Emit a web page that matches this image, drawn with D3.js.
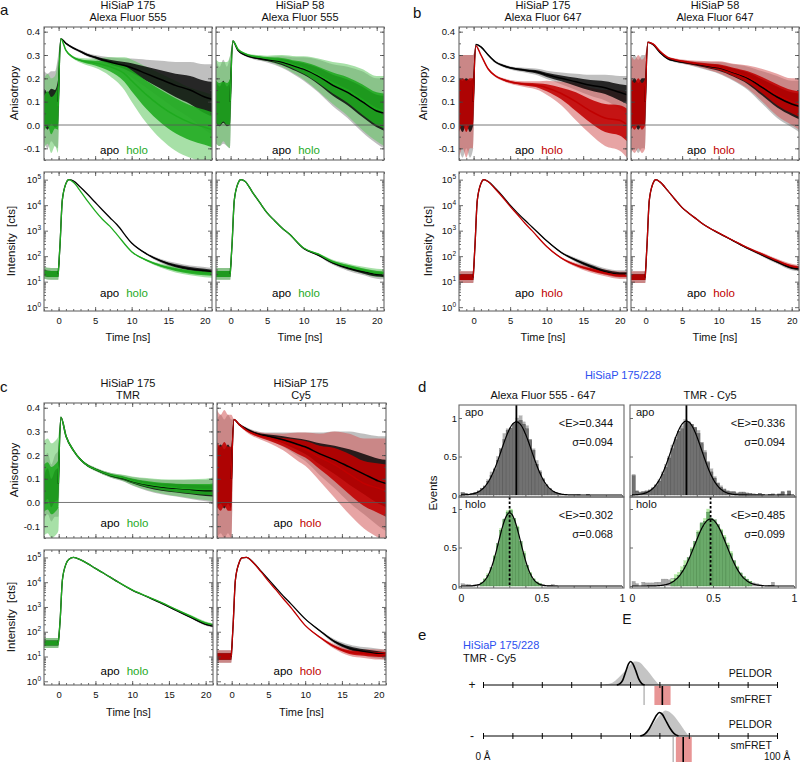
<!DOCTYPE html>
<html><head><meta charset="utf-8">
<script src="https://cdn.jsdelivr.net/npm/d3@7"></script>
<style>body{margin:0;background:#fff} text{font-family:"Liberation Sans",Arial,sans-serif;fill:#111}</style>
</head><body><svg id="c" width="800" height="762"></svg>
<script>
// ---------------- DATA ----------------
const timeTicks = [0, 5, 10, 15, 20];
const anisoTicks = [-0.1, 0.0, 0.1, 0.2, 0.3, 0.4];
const logTicks = [1, 10, 100, 1000, 10000, 100000];
const tA = [-2,-1.5,-1,-0.5,-0.05,0.3,1,2,3,4,5,7,9,10,12,14,16,18,20,21];
// panel a – HiSiaP 175 Alexa Fluor 555
const aL_apo  = [0.08,0.06,0.08,0.07,0.10,0.37,0.35,0.33,0.315,0.30,0.29,0.27,0.255,0.245,0.22,0.195,0.17,0.15,0.12,0.11];
const aL_apoN = [0.15,0.16,0.15,0.16,0.2,0,0.004,0.005,0.006,0.008,0.01,0.02,0.03,0.04,0.06,0.08,0.1,0.12,0.14,0.15];
const aL_hol  = [0.05,0.07,0.04,0.06,0.08,0.37,0.32,0.29,0.277,0.27,0.265,0.25,0.22,0.19,0.13,0.08,0.04,0.01,-0.01,-0.02];
const aL_holN = [0.15,0.15,0.16,0.15,0.2,0,0.004,0.006,0.01,0.015,0.02,0.04,0.07,0.09,0.12,0.14,0.15,0.15,0.15,0.15];
// panel a – HiSiaP 58 Alexa Fluor 555
const aR_apo  = [0.1,0.08,0.1,0.08,0.1,0.36,0.32,0.30,0.29,0.285,0.28,0.27,0.25,0.24,0.21,0.17,0.14,0.1,0.06,0.05];
const aR_apoN = [0.18,0.17,0.18,0.17,0.2,0,0.004,0.005,0.007,0.01,0.012,0.025,0.04,0.05,0.07,0.09,0.11,0.13,0.14,0.15];
const aR_hol  = [0.1,0.09,0.1,0.09,0.1,0.36,0.325,0.305,0.295,0.29,0.285,0.275,0.255,0.245,0.215,0.18,0.15,0.11,0.07,0.06];
const aR_holN = [0.18,0.18,0.17,0.18,0.2,0,0.004,0.005,0.007,0.01,0.012,0.025,0.04,0.05,0.07,0.09,0.11,0.13,0.14,0.15];
// panel b – HiSiaP 175 Alexa Fluor 647
const bL_apo  = [0.1,0.08,0.1,0.08,0.1,0.345,0.335,0.3,0.27,0.255,0.245,0.235,0.225,0.215,0.2,0.185,0.17,0.16,0.14,0.13];
const bL_apoN = [0.2,0.22,0.2,0.22,0.2,0,0.003,0.004,0.005,0.006,0.007,0.01,0.015,0.018,0.025,0.035,0.045,0.055,0.07,0.08];
const bL_hol  = [0.08,0.1,0.08,0.1,0.1,0.34,0.30,0.24,0.21,0.195,0.185,0.175,0.168,0.16,0.135,0.1,0.06,0.03,0.02,0.0];
const bL_holN = [0.22,0.2,0.22,0.2,0.2,0,0.003,0.004,0.005,0.006,0.008,0.012,0.02,0.03,0.05,0.08,0.1,0.12,0.13,0.14];
// panel b – HiSiaP 58 Alexa Fluor 647
const bR_apo  = [0.08,0.1,0.08,0.1,0.1,0.355,0.345,0.31,0.285,0.275,0.27,0.26,0.25,0.245,0.225,0.2,0.16,0.12,0.09,0.08];
const bR_apoN = [0.2,0.2,0.2,0.2,0.2,0,0.003,0.004,0.005,0.006,0.008,0.012,0.02,0.025,0.035,0.05,0.07,0.09,0.1,0.11];
const bR_hol  = [0.1,0.08,0.1,0.08,0.1,0.355,0.348,0.315,0.29,0.28,0.273,0.263,0.253,0.248,0.228,0.205,0.17,0.13,0.1,0.09];
const bR_holN = [0.2,0.2,0.2,0.2,0.2,0,0.003,0.004,0.005,0.006,0.008,0.012,0.02,0.025,0.035,0.05,0.07,0.09,0.1,0.11];
// panel c – HiSiaP 175 TMR
const cL_apo  = [0.05,0.08,0.04,0.07,0.08,0.36,0.28,0.22,0.18,0.155,0.14,0.115,0.1,0.09,0.075,0.065,0.06,0.055,0.05,0.05];
const cL_apoN = [0.12,0.13,0.12,0.13,0.14,0,0.003,0.004,0.005,0.006,0.007,0.01,0.014,0.018,0.025,0.03,0.035,0.04,0.045,0.05];
const cL_hol  = [0.06,0.07,0.05,0.06,0.08,0.36,0.28,0.22,0.18,0.155,0.14,0.116,0.102,0.092,0.078,0.068,0.062,0.058,0.055,0.055];
const cL_holN = [0.2,0.2,0.2,0.2,0.2,0,0.003,0.004,0.005,0.006,0.007,0.01,0.014,0.018,0.025,0.03,0.035,0.04,0.045,0.05];
// panel c – HiSiaP 175 Cy5
const cR_apo  = [0.1,0.12,0.1,0.12,0.1,0.35,0.33,0.31,0.295,0.285,0.28,0.265,0.245,0.235,0.205,0.18,0.15,0.12,0.09,0.08];
const cR_apoN = [0.25,0.25,0.25,0.25,0.25,0,0.005,0.008,0.01,0.012,0.015,0.03,0.05,0.06,0.09,0.12,0.15,0.17,0.19,0.2];
const cR_hol  = [0.12,0.1,0.12,0.1,0.1,0.35,0.33,0.305,0.29,0.28,0.272,0.255,0.235,0.225,0.19,0.16,0.12,0.08,0.06,0.05];
const cR_holN = [0.27,0.27,0.27,0.27,0.27,0,0.005,0.008,0.012,0.015,0.02,0.035,0.06,0.07,0.1,0.14,0.17,0.19,0.21,0.22];

// intensity decays [cts]
const tI = [-2,-1,-0.05,0.2,0.5,1,1.4,2,3,4,5,6,7,8,10,12,14,16,18,20,21];
const iaL_apo = [22,20,20,300,1.5e4,7e4,1e5,9e4,5e4,2.6e4,1.3e4,6.5e3,3.3e3,1.7e3,330,125,65,42,32,27,25];
const iaL_hol = [22,20,20,300,1.5e4,7e4,1e5,8e4,3.5e4,1.4e4,6e3,2.8e3,1.5e3,700,150,70,42,30,24,21,20];
const iaL_noise = [1.7,1.7,1.7,1,1,1,1,1,1,1,1,1,1,1,1.05,1.1,1.2,1.3,1.35,1.4,1.4];
const iaR_apo = [20,20,20,300,1.5e4,7e4,1e5,8.5e4,3.2e4,1.25e4,5e3,2.5e3,1.3e3,750,200,110,55,35,25,19,18];
const iaR_hol = [20,20,20,300,1.5e4,7e4,1e5,8.5e4,3.2e4,1.25e4,5e3,2.5e3,1.3e3,760,210,120,60,40,29,22,21];
const iaR_noise = [1.7,1.7,1.7,1,1,1,1,1,1,1,1,1,1,1,1.05,1.1,1.2,1.3,1.35,1.45,1.45];
const ibL_apo = [15,15,15,300,1.5e4,7e4,1e5,8.5e4,4.5e4,2.2e4,1e4,5e3,2.6e3,1.4e3,400,140,70,40,25,20,20];
const ibL_hol = [15,15,15,300,1.5e4,7e4,1e5,8.3e4,4.2e4,2e4,9e3,4.3e3,2e3,1e3,240,85,45,30,22,18,18];
const ibL_noise = [1.7,1.7,1.7,1,1,1,1,1,1,1,1,1,1,1,1.05,1.1,1.2,1.3,1.35,1.4,1.4];
const ibR_apo = [15,15,15,300,1.5e4,7e4,1e5,8e4,3.8e4,1.7e4,8e3,4.6e3,2.8e3,1.7e3,800,400,200,110,60,35,32];
const ibR_hol = [15,15,15,300,1.5e4,7e4,1e5,8e4,3.8e4,1.7e4,8e3,4.6e3,2.8e3,1.7e3,820,410,210,118,66,40,36];
const ibR_noise = [1.7,1.7,1.7,1,1,1,1,1,1,1,1,1,1,1,1.03,1.06,1.1,1.15,1.2,1.25,1.25];
const icL_apo = [35,35,35,300,1.2e4,5.5e4,8.5e4,1e5,8e4,5.5e4,3.6e4,2.4e4,1.6e4,1.05e4,4.8e3,2.6e3,1.4e3,720,380,200,170];
const icL_hol = [35,35,35,300,1.2e4,5.5e4,8.5e4,1e5,8e4,5.5e4,3.6e4,2.4e4,1.6e4,1.05e4,4.9e3,2.7e3,1.5e3,780,420,225,190];
const icL_noise = [1.6,1.6,1.6,1,1,1,1,1,1,1,1,1,1,1,1,1.02,1.05,1.08,1.12,1.15,1.15];
const icR_apo = [10,10,10,200,1.2e4,6e4,9.5e4,1e5,6e4,2.8e4,1.3e4,6e3,2.8e3,1.4e3,330,110,40,22,16,13,12];
const icR_hol = [10,10,10,200,1.2e4,6e4,9.5e4,1e5,5.8e4,2.6e4,1.1e4,5e3,2.2e3,1e3,180,60,25,15,13,12,12];
const icR_noise = [1.8,1.8,1.8,1,1,1,1,1,1,1,1,1,1,1,1.05,1.1,1.25,1.4,1.5,1.6,1.6];

// panel d – FRET efficiency histograms (bin width 0.02, 0–1)
const binWidth = 0.02;
const hAFapo  = [0.03,0.02,0.01,0.02,0.03,0.05,0.08,0.11,0.18,0.25, 0.33,0.45,0.60,0.72,0.84,0.87,0.93,0.96,0.97,0.92, 0.86,0.72,0.58,0.40,0.30,0.20,0.13,0.08,0.05,0.03, 0.02,0.01,0.01,0,0,0,0.01,0,0,0.01, 0,0,0,0,0,0,0,0,0,0];
const hAFapoL = [0.03,0.02,0.01,0.02,0.03,0.06,0.09,0.12,0.2,0.3, 0.35,0.5,0.58,0.8,0.86,0.85,0.9,1.0,1.03,0.95, 0.9,0.7,0.6,0.45,0.32,0.22,0.14,0.09,0.05,0.03, 0.02,0.01,0.01,0,0,0,0.01,0,0,0.01, 0,0,0,0,0,0,0,0,0,0];
const hTCapo  = [0.25,0.05,0.03,0.04,0.05,0.06,0.08,0.12,0.18,0.27, 0.36,0.48,0.6,0.72,0.83,0.86,0.93,0.95,0.92,0.88, 0.8,0.68,0.55,0.42,0.3,0.22,0.15,0.1,0.07,0.05, 0.04,0.04,0.02,0.03,0.03,0.02,0.02,0.01,0.01,0.02, 0.01,0,0.01,0.01,0,0.01,0.04,0,0.05,0];
const hTCapoL = [0.27,0.06,0.04,0.05,0.06,0.07,0.1,0.14,0.2,0.3, 0.4,0.5,0.65,0.75,0.82,0.9,0.98,0.94,0.9,0.86, 0.84,0.66,0.58,0.44,0.34,0.24,0.16,0.12,0.08,0.06, 0.05,0.05,0.03,0.04,0.04,0.03,0.02,0.02,0.01,0.02, 0.01,0,0.01,0.02,0,0.02,0.05,0,0.06,0];
const hAFholG = [0.03,0.02,0.02,0.01,0.02,0.02,0.03,0,0,0, 0,0,0,0,0,0,0,0,0,0, 0,0,0,0,0,0.02,0.01,0.01,0.02,0.01, 0,0,0,0,0,0,0,0,0,0, 0,0,0,0,0,0,0,0,0,0];
const hAFhol  = [0,0,0,0,0,0,0.04,0.08,0.14,0.24, 0.38,0.55,0.72,0.87,0.96,0.98,0.88,0.76,0.58,0.42, 0.27,0.16,0.09,0.05,0.03,0,0,0,0,0, 0,0,0,0,0,0,0,0,0,0, 0,0,0,0,0,0,0,0,0,0];
const hAFholL = [0,0,0,0,0,0,0.05,0.1,0.16,0.22, 0.4,0.52,0.75,0.85,0.98,1.0,0.86,0.78,0.55,0.45, 0.25,0.18,0.1,0.06,0.03,0,0,0,0,0, 0,0,0,0,0,0,0,0,0,0, 0,0,0,0,0,0,0,0,0,0];
const hTCholG = [0.06,0.03,0,0.05,0.04,0.04,0.04,0.05,0.05,0.09, 0.09,0.08,0.1,0.1,0,0,0,0,0,0, 0,0,0,0,0,0,0,0,0,0, 0,0,0,0,0,0,0,0.04,0.03,0.02, 0,0,0.01,0.05,0,0,0,0,0,0];
const hTChol  = [0,0,0,0,0,0,0,0,0,0, 0,0,0.06,0.1,0.14,0.2,0.27,0.37,0.48,0.58, 0.7,0.82,0.84,0.96,0.88,0.86,0.8,0.72,0.63,0.53, 0.42,0.33,0.24,0.17,0.12,0.09,0.06,0,0,0, 0,0,0,0,0,0,0,0,0,0];
const hTCholL = [0,0,0,0,0,0,0,0,0,0, 0,0,0.09,0.15,0.18,0.25,0.33,0.34,0.5,0.55, 0.72,0.8,0.88,1.0,0.85,0.84,0.78,0.74,0.66,0.56, 0.45,0.3,0.26,0.15,0.12,0.08,0.06,0,0,0, 0,0,0,0,0,0,0,0,0,0];
const fitMean = {AFapo:0.344, TCapo:0.336, AFhol:0.302, TChol:0.485};
const fitSigma = {AFapo:0.094, TCapo:0.094, AFhol:0.068, TChol:0.099};
const fitAmp = {AFapo:0.95, TCapo:0.96, AFhol:0.95, TChol:0.87};
const eTicks = [0, 0.5, 1];
const eventTicks = [0, 0.5, 1];

// panel e – distance distributions [Å]
const distTicks = [0,10,20,30,40,50,60,70,80,90,100];
const peldorR_plus = [40,42,44,46,48,50,51.5,53,55,57,58.5,60];
const peldorP_plus = [0,0.04,0.1,0.3,0.55,0.85,1.0,0.98,0.75,0.45,0.2,0];
const fitR_plus = [45.5,46.5,47.5,48.5,49.5,50.2,51,52,53,54,55];
const fitP_plus = [0,0.05,0.2,0.55,0.9,1.0,0.9,0.6,0.25,0.06,0];
const peldorR_minus = [53,55,57,59,61,62,63,65,67,68.5,70];
const peldorP_minus = [0,0.1,0.35,0.72,1.0,1.08,1.05,0.85,0.52,0.25,0];
const fitR_minus = [53.5,55,56.5,58,59,60,61,62,63.5,65,66.5];
const fitP_minus = [0,0.08,0.3,0.65,0.88,1.0,0.92,0.7,0.35,0.1,0];
const smfret_lo = [58.3, 65.6];
const smfret_hi = [63.8, 71.0];
const smfret_mean = [61.0, 68.1];
const smfret_ref = [54.8, 64.7];

// ---------------- DRAWING ----------------
const GREEN = '#1faa1f', RED = '#c00000', BLUE = '#2c4ff0';
const svg = d3.select('#c');
let clipN = 0;
function clip(x0,y0,x1,y1){const id='cl'+(clipN++);svg.append('clipPath').attr('id',id).append('rect').attr('x',x0).attr('y',y0).attr('width',x1-x0).attr('height',y1-y0);return id;}
function txt(x,y,s,opt={}){const t=svg.append('text').attr('x',x).attr('y',y).attr('font-size',opt.size||11).attr('text-anchor',opt.anchor||'start').text(s);if(opt.fill)t.style('fill',opt.fill);if(opt.rot)t.attr('transform',`rotate(-90,${x},${y})`);return t;}
function styleAxis(a, fs){a.select('.domain').remove();a.selectAll('line').attr('stroke','#444').attr('stroke-width',0.8);a.selectAll('text').attr('font-size',fs||9).style('fill','#111');return a;}
function frame(x0,y0,x1,y1){svg.append('rect').attr('x',x0).attr('y',y0).attr('width',x1-x0).attr('height',y1-y0).attr('fill','none').attr('stroke','#666').attr('stroke-width',1.1);}
const OUTER={'#000':'#8a8a8a',[GREEN]:'#5fc65f',[RED]:'#d45a5a'};
function timeTicksAxes(xs,y0,y1,labels,labY){
  const minor=d3.range(-2,22,1);
  styleAxis(svg.append('g').attr('transform',`translate(0,${y1})`).call(d3.axisBottom(xs).tickValues(minor).tickSize(-2).tickFormat('')));
  styleAxis(svg.append('g').attr('transform',`translate(0,${y1})`).call(d3.axisBottom(xs).tickValues(timeTicks).tickSize(-4).tickFormat('')));
  styleAxis(svg.append('g').attr('transform',`translate(0,${y0})`).call(d3.axisTop(xs).tickValues(minor).tickSize(-2).tickFormat('')));
  styleAxis(svg.append('g').attr('transform',`translate(0,${y0})`).call(d3.axisTop(xs).tickValues(timeTicks).tickSize(-4).tickFormat('')));
  if(labels){
    styleAxis(svg.append('g').attr('transform',`translate(0,${labY})`).call(d3.axisBottom(xs).tickValues(timeTicks).tickSize(0).tickPadding(0)),9.5);
  }
}
function legend(cx,y,color){
  const t=svg.append('text').attr('x',cx).attr('y',y).attr('font-size',11.5).attr('text-anchor','middle');
  t.append('tspan').text('apo').style('fill','#000');
  t.append('tspan').attr('dx',7).text('holo').style('fill',color);
}
const TDOM=[-2,21];
function bands(g,xs,ys,t,sers,lo,hi,lineFrom,lw){
  // outer (sparse noise spikes) then inner (dense core) band, then mean line
  sers.forEach(s=>{
    const area=d3.area().x((d,i)=>xs(t[i])).y0((d,i)=>ys(lo(s,i,1))).y1((d,i)=>ys(hi(s,i,1))).curve(d3.curveMonotoneX);
    g.append('path').datum(s.m).attr('d',area).attr('fill',OUTER[s.c]).attr('fill-opacity',0.55);
  });
  sers.forEach(s=>{
    const area=d3.area().x((d,i)=>xs(t[i])).y0((d,i)=>ys(lo(s,i,0.5))).y1((d,i)=>ys(hi(s,i,0.5))).curve(d3.curveMonotoneX);
    g.append('path').datum(s.m).attr('d',area).attr('fill',s.c).attr('fill-opacity',s.c==='#000'?0.8:0.88);
  });
  sers.forEach(s=>{
    const line=d3.line().x((d,i)=>xs(t[i+lineFrom])).y(d=>ys(d)).curve(d3.curveMonotoneX);
    g.append('path').datum(s.m.slice(lineFrom)).attr('d',line).attr('fill','none').attr('stroke',s.c).attr('stroke-width',lw);
  });
}
function aniso(p){
  const xs=d3.scaleLinear().domain(TDOM).range([p.x0,p.x1]);
  const ys=d3.scaleLinear().domain([-0.15,0.42]).range([p.y1,p.y0]);
  const cid=clip(p.x0,p.y0,p.x1,p.y1);
  const g=svg.append('g').attr('clip-path',`url(#${cid})`);
  const sers=[{m:p.apo,n:p.apoN,c:'#000'},{m:p.hol,n:p.holN,c:p.color}];
  bands(g,xs,ys,tA,sers,(s,i,f)=>s.m[i]-f*s.n[i],(s,i,f)=>s.m[i]+f*s.n[i],4,1.5);
  g.append('line').attr('x1',p.x0).attr('x2',p.x1).attr('y1',ys(0)).attr('y2',ys(0)).attr('stroke','#555').attr('stroke-width',0.8);
  timeTicksAxes(xs,p.y0,p.y1,false);
  const minor=d3.range(-0.15,0.42,0.05);
  styleAxis(svg.append('g').attr('transform',`translate(${p.x0},0)`).call(d3.axisLeft(ys).tickValues(minor).tickSize(-2).tickFormat('')));
  styleAxis(svg.append('g').attr('transform',`translate(${p.x1},0)`).call(d3.axisRight(ys).tickValues(minor).tickSize(-2).tickFormat('')));
  styleAxis(svg.append('g').attr('transform',`translate(${p.x0},0)`).call(d3.axisLeft(ys).tickValues(anisoTicks).tickSize(-4).tickPadding(4).tickFormat(p.labels?(d=>d.toFixed(1)):'')),9.5);
  styleAxis(svg.append('g').attr('transform',`translate(${p.x1},0)`).call(d3.axisRight(ys).tickValues(anisoTicks).tickSize(-4).tickFormat('')));
  frame(p.x0,p.y0,p.x1,p.y1);
  legend((p.x0+p.x1)/2-4,p.legY,p.color);
}
function inten(p){
  const xs=d3.scaleLinear().domain(TDOM).range([p.x0,p.x1]);
  const ys=d3.scaleLog().domain([Math.pow(10,-0.15),Math.pow(10,5.3)]).range([p.y1,p.y0]);
  const cid=clip(p.x0,p.y0,p.x1,p.y1);
  const g=svg.append('g').attr('clip-path',`url(#${cid})`);
  const sers=[{m:p.apo,c:'#000'},{m:p.hol,c:p.color}];
  bands(g,xs,ys,tI,sers,(s,i,f)=>s.m[i]/Math.pow(p.noise[i],f),(s,i,f)=>s.m[i]*Math.pow(p.noise[i],f),2,1.3);
  timeTicksAxes(xs,p.y0,p.y1,true,p.labY);
  const minor=[];for(let k=0;k<6;k++)for(let m=2;m<10;m++){const v=m*Math.pow(10,k);if(v<Math.pow(10,5.3))minor.push(v);}
  styleAxis(svg.append('g').attr('transform',`translate(${p.x0},0)`).call(d3.axisLeft(ys).tickValues(minor).tickSize(-2).tickFormat('')));
  styleAxis(svg.append('g').attr('transform',`translate(${p.x1},0)`).call(d3.axisRight(ys).tickValues(minor).tickSize(-2).tickFormat('')));
  const ax=styleAxis(svg.append('g').attr('transform',`translate(${p.x0},0)`).call(d3.axisLeft(ys).tickValues(logTicks).tickSize(-4).tickPadding(3).tickFormat(p.labels?(d=>'10'):'')),9.5);
  if(p.labels){ax.selectAll('text').each(function(d){d3.select(this).append('tspan').attr('dy',-4).attr('font-size',6.5).text(Math.round(Math.log10(d)));});}
  styleAxis(svg.append('g').attr('transform',`translate(${p.x1},0)`).call(d3.axisRight(ys).tickValues(logTicks).tickSize(-4).tickFormat('')));
  frame(p.x0,p.y0,p.x1,p.y1);
  legend((p.x0+p.x1)/2-4,p.legY,p.color);
  txt((p.x0+p.x1)/2,p.timeY,'Time [ns]',{size:11,anchor:'middle'});
}
function title(cx,y,l1,l2){txt(cx,y,l1,{anchor:'middle'});txt(cx,y+12,l2,{anchor:'middle'});}

// ---- panel a
txt(0,15,'a',{size:15});
title(128,9,'HiSiaP 175','Alexa Fluor 555');
title(300,9,'HiSiaP 58','Alexa Fluor 555');
aniso({x0:44,x1:212,y0:27,y1:160,apo:aL_apo,apoN:aL_apoN,hol:aL_hol,holN:aL_holN,color:GREEN,labels:true,legY:154});
aniso({x0:216,x1:384,y0:27,y1:160,apo:aR_apo,apoN:aR_apoN,hol:aR_hol,holN:aR_holN,color:GREEN,labels:false,legY:154});
inten({x0:44,x1:212,y0:172,y1:311,apo:iaL_apo,hol:iaL_hol,noise:iaL_noise,color:GREEN,labels:true,legY:297,labY:317,timeY:341});
inten({x0:216,x1:384,y0:172,y1:311,apo:iaR_apo,hol:iaR_hol,noise:iaR_noise,color:GREEN,labels:false,legY:297,labY:317,timeY:341});
txt(18,93,'Anisotropy',{size:11.5,anchor:'middle',rot:true});
txt(15,241,'Intensity\u00a0 [cts]',{size:11.5,anchor:'middle',rot:true});
// ---- panel b
txt(413,18,'b',{size:15});
title(543,9,'HiSiaP 175','Alexa Fluor 647');
title(715,9,'HiSiaP 58','Alexa Fluor 647');
aniso({x0:459,x1:627,y0:27,y1:160,apo:bL_apo,apoN:bL_apoN,hol:bL_hol,holN:bL_holN,color:RED,labels:true,legY:154});
aniso({x0:631,x1:799,y0:27,y1:160,apo:bR_apo,apoN:bR_apoN,hol:bR_hol,holN:bR_holN,color:RED,labels:false,legY:154});
inten({x0:459,x1:627,y0:172,y1:311,apo:ibL_apo,hol:ibL_hol,noise:ibL_noise,color:RED,labels:true,legY:297,labY:317,timeY:341});
inten({x0:631,x1:799,y0:172,y1:311,apo:ibR_apo,hol:ibR_hol,noise:ibR_noise,color:RED,labels:false,legY:297,labY:317,timeY:341});
txt(427,93,'Anisotropy',{size:11.5,anchor:'middle',rot:true});
txt(432,241,'Intensity\u00a0 [cts]',{size:11.5,anchor:'middle',rot:true});
// ---- panel c
txt(0,392,'c',{size:15});
title(128,387,'HiSiaP 175','TMR');
title(301,387,'HiSiaP 175','Cy5');
aniso({x0:44,x1:213,y0:403,y1:538,apo:cL_apo,apoN:cL_apoN,hol:cL_hol,holN:cL_holN,color:GREEN,labels:true,legY:527});
aniso({x0:217,x1:386,y0:403,y1:538,apo:cR_apo,apoN:cR_apoN,hol:cR_hol,holN:cR_holN,color:RED,labels:false,legY:527});
inten({x0:44,x1:213,y0:550,y1:685,apo:icL_apo,hol:icL_hol,noise:icL_noise,color:GREEN,labels:true,legY:675,labY:691,timeY:716});
inten({x0:217,x1:386,y0:550,y1:685,apo:icR_apo,hol:icR_hol,noise:icR_noise,color:RED,labels:false,legY:675,labY:691,timeY:716});
txt(18,470,'Anisotropy',{size:11.5,anchor:'middle',rot:true});
txt(15,617,'Intensity\u00a0 [cts]',{size:11.5,anchor:'middle',rot:true});

// ---- panel d
txt(418,392,'d',{size:15});
txt(623,379,'HiSiaP 175/228',{size:11,anchor:'middle',fill:BLUE});
txt(543,399,'Alexa Fluor 555 - 647',{size:11,anchor:'middle'});
txt(710,399,'TMR - Cy5',{size:11,anchor:'middle'});
function hist(p){
  const xs=d3.scaleLinear().domain([0,1]).range([p.x0+2,p.x1-2]);
  const ys=d3.scaleLinear().domain([0,1]).range([p.y1-2,p.y1-79]);
  const cid=clip(p.x0,p.y0,p.x1,p.y1);
  const g=svg.append('g').attr('clip-path',`url(#${cid})`);
  const bw=xs(binWidth)-xs(0);
  const layers=[];
  if(p.bg)layers.push([p.bg,'#a9a9a9','#8a8a8a']);
  layers.push([p.light,p.lc,p.lc]);
  layers.push([p.dark,p.dc,p.sc]);
  layers.forEach(([arr,fc,sc])=>{
    g.selectAll(null).data(arr).enter().append('rect')
      .attr('x',(d,i)=>xs(i*binWidth)).attr('width',bw).attr('y',d=>ys(d)).attr('height',d=>ys(0)-ys(d))
      .attr('fill',fc).attr('stroke',sc).attr('stroke-width',0.3);
  });
  const ex=d3.range(0,1.0001,0.005);
  const fit=d3.line().x(d=>xs(d)).y(d=>ys(p.amp*Math.exp(-Math.pow(d-p.mean,2)/(2*p.sigma*p.sigma)))).curve(d3.curveBasis);
  g.append('path').datum(ex).attr('d',fit).attr('fill','none').attr('stroke','#000').attr('stroke-width',1.2);
  g.append('line').attr('x1',xs(p.mean)).attr('x2',xs(p.mean)).attr('y1',p.y0).attr('y2',ys(0)).attr('stroke','#000').attr('stroke-width',1.8).attr('stroke-dasharray',p.dash?'2.5,2':null);
  styleAxis(svg.append('g').attr('transform',`translate(${p.x0},0)`).call(d3.axisLeft(ys).tickValues(eventTicks).tickSize(-3).tickPadding(2).tickFormat(p.ylab?(d=>d===0?'0':d===1?'1':'0.5'):'')),9.5);
  styleAxis(svg.append('g').attr('transform',`translate(0,${p.y1})`).call(d3.axisTop(xs).tickValues(d3.range(0,1.01,0.1)).tickSize(2).tickFormat('')));
  if(p.xlab){
    styleAxis(svg.append('g').attr('transform',`translate(0,${p.y1})`).call(d3.axisBottom(xs).tickValues(eTicks).tickSize(0).tickPadding(7).tickFormat(d=>d===0.5?'0.5':String(d))),10.5);
  }
  frame(p.x0,p.y0,p.x1,p.y1);
  txt(p.x0+6,p.y0+11,p.name,{size:11});
  txt(p.x1-11,p.y0+22,'<E>=' + p.mean.toFixed(3),{size:11,anchor:'end'});
  txt(p.x1-11,p.y0+41,'\u03c3=' + p.sigma.toFixed(3),{size:11,anchor:'end'});
}
const GD='#717171',GL='#b3b3b3',VD='#6aaa6a',VL='#b6eaa8';
hist({x0:459,x1:624,y0:405,y1:497,dark:hAFapo,light:hAFapoL,dc:GD,lc:GL,sc:'#4a4a4a',mean:fitMean.AFapo,sigma:fitSigma.AFapo,amp:fitAmp.AFapo,name:'apo',ylab:true,xlab:false});
hist({x0:630,x1:796,y0:405,y1:497,dark:hTCapo,light:hTCapoL,dc:GD,lc:GL,sc:'#4a4a4a',mean:fitMean.TCapo,sigma:fitSigma.TCapo,amp:fitAmp.TCapo,name:'apo',ylab:false,xlab:false});
hist({x0:459,x1:624,y0:497,y1:588,bg:hAFholG,dark:hAFhol,light:hAFholL,dc:VD,lc:VL,sc:'#3f7a3f',mean:fitMean.AFhol,sigma:fitSigma.AFhol,amp:fitAmp.AFhol,name:'holo',ylab:true,xlab:true,dash:true});
hist({x0:630,x1:796,y0:497,y1:588,bg:hTCholG,dark:hTChol,light:hTCholL,dc:VD,lc:VL,sc:'#3f7a3f',mean:fitMean.TChol,sigma:fitSigma.TChol,amp:fitAmp.TChol,name:'holo',ylab:false,xlab:true,dash:true});
txt(437,493,'Events',{size:11.5,anchor:'middle',rot:true});
txt(627,624,'E',{size:14,anchor:'middle'});

// ---- panel e
txt(418,640,'e',{size:15});
txt(463,649,'HiSiaP 175/228',{size:11,fill:BLUE});
txt(463,662,'TMR - Cy5',{size:11});
const xd=d3.scaleLinear().domain([0,100]).range([483,777]);
const rows=[
  {y:685,pr:peldorR_plus,pp:peldorP_plus,fr:fitR_plus,fp:fitP_plus,sign:'+',i:0},
  {y:736,pr:peldorR_minus,pp:peldorP_minus,fr:fitR_minus,fp:fitP_minus,sign:'-',i:1}];
rows.forEach(r=>{
  const hy=d3.scaleLinear().domain([0,1]).range([r.y,r.y-23.5]);
  svg.append('path').datum(r.pr).attr('d',d3.area().x(d=>xd(d)).y0(r.y).y1((d,i)=>hy(r.pp[i])).curve(d3.curveMonotoneX)).attr('fill','#c4c4c4');
  svg.append('path').datum(r.fr).attr('d',d3.line().x(d=>xd(d)).y((d,i)=>hy(r.fp[i])).curve(d3.curveMonotoneX)).attr('fill','none').attr('stroke','#000').attr('stroke-width',1.6);
  const bot=r.i===0?705:762;
  svg.append('rect').attr('x',xd(smfret_lo[r.i])).attr('width',xd(smfret_hi[r.i])-xd(smfret_lo[r.i])).attr('y',r.y+1).attr('height',bot-r.y-1).attr('fill','#e89595');
  svg.append('line').attr('x1',xd(smfret_ref[r.i])).attr('x2',xd(smfret_ref[r.i])).attr('y1',r.y+1).attr('y2',bot).attr('stroke','#bdbdbd').attr('stroke-width',1.6);
  svg.append('line').attr('x1',xd(smfret_mean[r.i])).attr('x2',xd(smfret_mean[r.i])).attr('y1',r.y+1).attr('y2',bot).attr('stroke','#000').attr('stroke-width',1.6);
  svg.append('line').attr('x1',xd(0)).attr('x2',xd(100)).attr('y1',r.y).attr('y2',r.y).attr('stroke','#000').attr('stroke-width',1);
  const a=svg.append('g').attr('transform',`translate(0,${r.y-3})`).call(d3.axisBottom(xd).tickValues(distTicks).tickSize(6).tickFormat(''));
  a.select('.domain').remove();a.selectAll('line').attr('stroke','#000').attr('stroke-width',1);
  txt(472,r.y+4,r.sign,{size:12,anchor:'middle'});
});
txt(772,677,'PELDOR',{size:10.5,anchor:'end'});
txt(772,703,'smFRET',{size:10.5,anchor:'end'});
txt(772,728,'PELDOR',{size:10.5,anchor:'end'});
txt(772,749,'smFRET',{size:10.5,anchor:'end'});
txt(483,760,'0 \u00c5',{size:10,anchor:'middle'});
txt(777,760,'100 \u00c5',{size:10,anchor:'middle'});
</script></body></html>
